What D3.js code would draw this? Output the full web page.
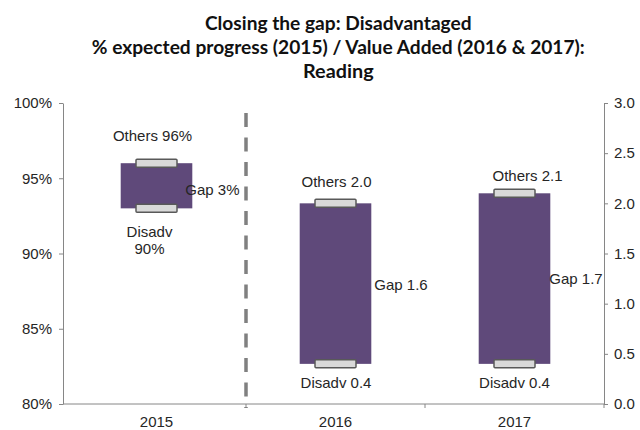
<!DOCTYPE html>
<html>
<head>
<meta charset="utf-8">
<script src="https://cdn.jsdelivr.net/npm/d3@7"></script>
<style>
  html, body { margin: 0; padding: 0; background: #fff; }
  svg text { font-family: "Liberation Sans", Arial, sans-serif; }
</style>
</head>
<body>
<svg id="chart" width="640" height="430"></svg>
<script>
// ---- data ----
const years = ["2015", "2016", "2017"];
// 2015 is % expected progress (left axis); 2016 and 2017 are value added (right axis)
const axisSide = ["left", "right", "right"];
const othersValues = [96, 2.0, 2.1];
const gapValues = [3, 1.6, 1.7];
const disadvValues = [90, 0.4, 0.4];
const leftTicks = [80, 85, 90, 95, 100];
const rightTicks = [0, 0.5, 1.0, 1.5, 2.0, 2.5, 3.0];
const titleLines = [
  "Closing the gap: Disadvantaged",
  "% expected progress (2015) / Value Added (2016 & 2017):",
  "Reading"
];

// ---- layout ----
const plot = { left: 63, right: 604, top: 103, bottom: 404 };
const textColor = "#262626";
const axisColor = "#868686";
const barColor = "#5f497a";

// hand-placed label nudges, per category
const nudge = {
  othersDx: [-4, 1, 13], othersDy: [-22, -16, -12],
  gapDx: [-7, 3, -1], gapDy: [9, 6, 5.5],
  disadvDx: [-7, 0.5, 0], disadvDy: [24, 24, 24]
};

const svg = d3.select("#chart");

const x = d3.scaleBand().domain(years).range([67, plot.right])
  .paddingInner(0.6).paddingOuter(0.3);
const yLeft = d3.scaleLinear().domain([80, 100]).range([plot.bottom, plot.top]);
const yRight = d3.scaleLinear().domain([0, 3]).range([plot.bottom, plot.top]);
const scaleFor = i => axisSide[i] === "left" ? yLeft : yRight;
const fmtFor = i => axisSide[i] === "left" ? (v => d3.format("d")(v) + "%") : d3.format(".1f");

// ---- title ----
const titleBase = [30, 54, 78.3];
const titleWidth = [266.7, 493, 70.6];
svg.append("g").selectAll("text").data(titleLines).join("text")
  .attr("x", 338.3)
  .attr("y", (d, i) => titleBase[i])
  .attr("text-anchor", "middle")
  .attr("textLength", (d, i) => titleWidth[i])
  .attr("lengthAdjust", "spacingAndGlyphs")
  .style("font-family", "Lato, 'Open Sans', sans-serif")
  .style("font-weight", "bold")
  .style("font-size", "18px")
  .attr("fill", "#111")
  .text(d => d);

// ---- axes ----
function styleAxis(g) {
  g.select(".domain").attr("stroke", axisColor).attr("stroke-width", 1);
  g.selectAll(".tick line").attr("stroke", axisColor);
  g.selectAll(".tick text").attr("fill", textColor)
    .style("font-family", "'Liberation Sans', Arial, sans-serif")
    .style("font-size", "15px");
}

svg.append("g")
  .attr("transform", `translate(${plot.left},0)`)
  .call(d3.axisLeft(yLeft).tickValues(leftTicks)
    .tickFormat(v => v + "%").tickSize(4).tickSizeOuter(0).tickPadding(7))
  .call(styleAxis);

svg.append("g")
  .attr("transform", `translate(${plot.right},0)`)
  .call(d3.axisRight(yRight).tickValues(rightTicks)
    .tickFormat(d3.format(".1f")).tickSize(4).tickSizeOuter(0).tickPadding(6))
  .call(styleAxis);

// category axis: labels under bars, tick marks between categories
const xAxis = svg.append("g")
  .attr("transform", `translate(0,${plot.bottom})`)
  .call(d3.axisBottom(x).tickSize(0).tickPadding(12))
  .call(styleAxis);
xAxis.select(".domain").remove();
svg.append("line")
  .attr("x1", plot.left).attr("x2", plot.right)
  .attr("y1", plot.bottom).attr("y2", plot.bottom)
  .attr("stroke", axisColor).attr("stroke-width", 1);

const step = x.step();
const boundaries = years.map(d => x(d) + x.bandwidth() + step * x.paddingInner() / 2);
svg.append("g").selectAll("line").data(boundaries).join("line")
  .attr("x1", d => d).attr("x2", d => d)
  .attr("y1", plot.bottom).attr("y2", plot.bottom + 4)
  .attr("stroke", axisColor);

// dashed separator between the two measures
svg.append("line")
  .attr("x1", boundaries[0]).attr("x2", boundaries[0])
  .attr("y1", 113).attr("y2", plot.bottom + 4)
  .attr("stroke", "#808080")
  .attr("stroke-width", 3.5)
  .attr("stroke-dasharray", "14,10.5");

// ---- floating gap bars ----
const rows = years.map((yr, i) => {
  const y = scaleFor(i);
  const top = othersValues[i];
  const bottom = othersValues[i] - gapValues[i];
  return { i, yr, yTop: y(top), yBottom: y(bottom), x0: x(yr), w: x.bandwidth() };
});

svg.append("g").selectAll("rect").data(rows).join("rect")
  .attr("x", d => d.x0)
  .attr("y", d => d.yTop)
  .attr("width", d => d.w)
  .attr("height", d => d.yBottom - d.yTop)
  .attr("fill", barColor);

// end markers for Others (top) and Disadv (bottom)
const markerW = 41, markerH = 8;
const markers = rows.flatMap(d => [d.yTop, d.yBottom].map(yy => ({ cx: d.x0 + d.w / 2, cy: yy })));
svg.append("g").selectAll("rect").data(markers).join("rect")
  .attr("x", d => d.cx - markerW / 2)
  .attr("y", d => d.cy - markerH / 2)
  .attr("width", markerW)
  .attr("height", markerH)
  .attr("rx", 1)
  .attr("fill", "#d9d9d9")
  .attr("stroke", "#595959")
  .attr("stroke-width", 1.5);

// ---- labels ----
const lab = svg.append("g")
  .style("font-family", "'Liberation Sans', Arial, sans-serif")
  .style("font-size", "15px")
  .attr("fill", textColor);

rows.forEach(d => {
  const i = d.i, fmt = fmtFor(i), cx = d.x0 + d.w / 2;
  lab.append("text")
    .attr("x", cx + nudge.othersDx[i])
    .attr("y", d.yTop + nudge.othersDy[i])
    .attr("text-anchor", "middle")
    .text("Others " + fmt(othersValues[i]));

  lab.append("text")
    .attr("x", d.x0 + d.w + nudge.gapDx[i])
    .attr("y", (d.yTop + d.yBottom) / 2 + nudge.gapDy[i])
    .attr("text-anchor", "start")
    .text("Gap " + fmt(gapValues[i]));

  if (axisSide[i] === "left") {
    const t = lab.append("text")
      .attr("x", cx + nudge.disadvDx[i])
      .attr("y", d.yBottom + 29)
      .attr("text-anchor", "middle");
    t.append("tspan").attr("x", cx + nudge.disadvDx[i]).text("Disadv");
    t.append("tspan").attr("x", cx + nudge.disadvDx[i]).attr("dy", 16.6).text(fmt(disadvValues[i]));
  } else {
    lab.append("text")
      .attr("x", cx + nudge.disadvDx[i])
      .attr("y", d.yBottom + nudge.disadvDy[i])
      .attr("text-anchor", "middle")
      .text("Disadv " + fmt(disadvValues[i]));
  }
});
</script>
</body>
</html>
